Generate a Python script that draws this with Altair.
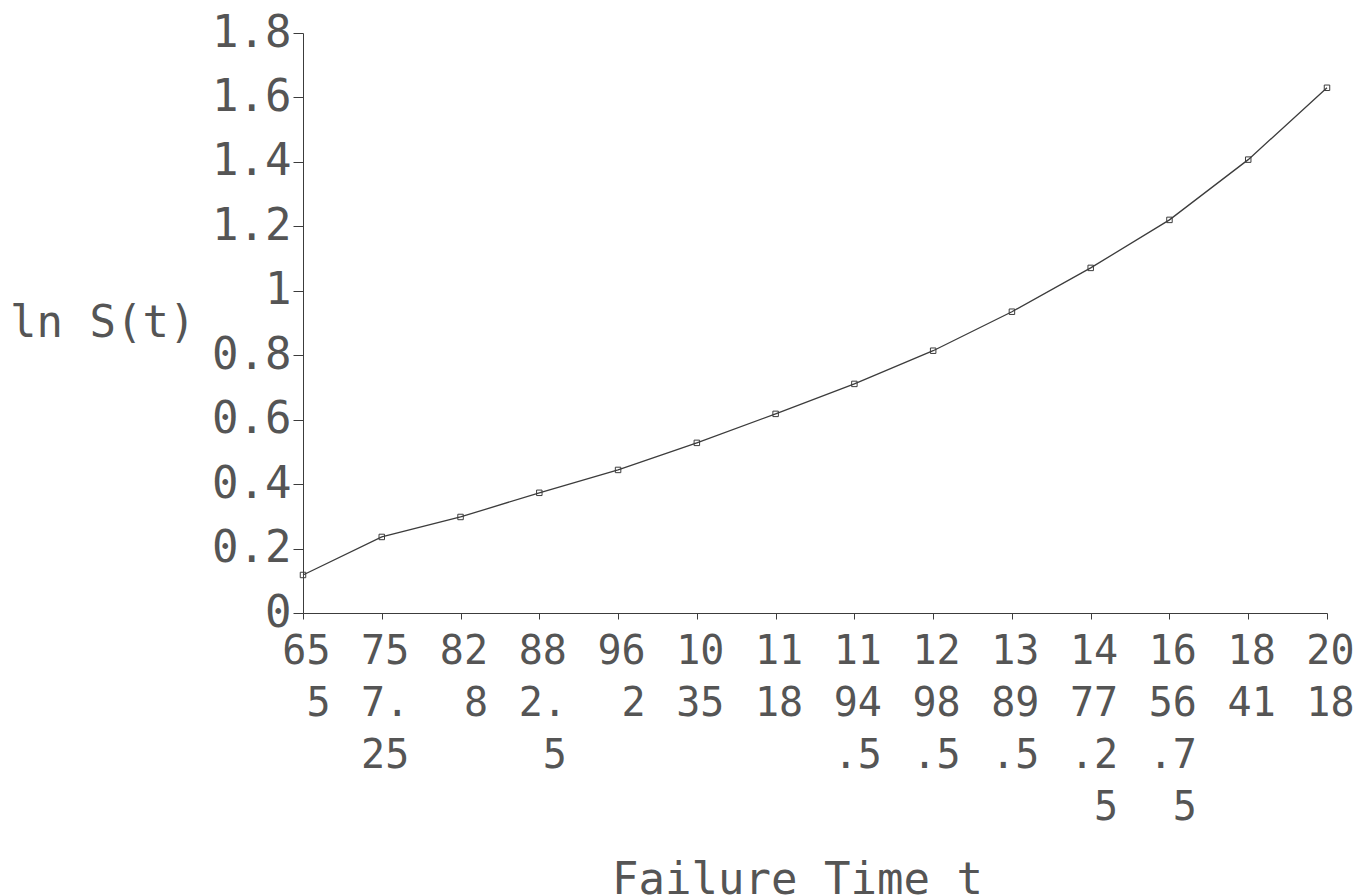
import altair as alt
import pandas as pd

# Failure-time tick labels (equally spaced categories on the x axis)
t_labels = ["655", "757.25", "828", "882.5", "962", "1035", "1118", "1194.5",
            "1298.5", "1389.5", "1477.25", "1656.75", "1841", "2018"]
# -ln S(t) read at each labelled time
neg_ln_s = [0.118, 0.236, 0.298, 0.373, 0.444, 0.528, 0.618, 0.711,
            0.814, 0.935, 1.071, 1.220, 1.407, 1.630]
y_ticks = [0, 0.2, 0.4, 0.6, 0.8, 1.0, 1.2, 1.4, 1.6, 1.8]

df = pd.DataFrame({"t": t_labels, "y": neg_ln_s})

FONT = "DejaVu Sans Mono"
INK = "#3c3c3c"
TXT = "#555555"

x_enc = alt.X(
    "t:N",
    sort=t_labels,
    scale=alt.Scale(type="point", padding=0),
    axis=alt.Axis(
        title="Failure Time t",
        grid=False,
        labelAngle=0,
        labelExpr="[substring(datum.label,0,2), substring(datum.label,2,4), substring(datum.label,4,6), substring(datum.label,6,8)]",
        labelAlign="right",
        labelOffset=27,
        labelFont=FONT,
        labelFontSize=40,
        labelLineHeight=52,
        labelColor=TXT,
        labelPadding=12,
        labelOverlap=False,
        tickSize=6,
        tickColor=INK,
        domainColor=INK,
        titleFont=FONT,
        titleFontSize=44,
        titleFontWeight="normal",
        titleColor=TXT,
        titleAlign="center",
        titleBaseline="top",
        titleX=494,
        titleY=245,
    ),
)

y_enc = alt.Y(
    "y:Q",
    scale=alt.Scale(domain=[0, 1.8], nice=False),
    axis=alt.Axis(
        values=y_ticks,
        grid=False,
        format="~g",
        title="-ln S(t)",
        labelFont=FONT,
        labelFontSize=44,
        labelColor=TXT,
        labelPadding=2,
        tickSize=10,
        tickColor=INK,
        domainColor=INK,
        titleFont=FONT,
        titleFontSize=44,
        titleFontWeight="normal",
        titleColor=TXT,
        titleAngle=0,
        titleAlign="left",
        titleBaseline="middle",
        titleX=-320,
        titleY=290,
    ),
)

base = alt.Chart(df).encode(x=x_enc, y=y_enc)
line = base.mark_line(color=INK, strokeWidth=1.3)
pts = base.mark_point(shape="square", filled=False, size=30, color=INK, strokeWidth=1, opacity=1)

chart = (
    alt.layer(line, pts)
    .properties(
        width=1024,
        height=580,
        padding={"left": 295, "top": 25, "right": 27, "bottom": 290},
        autosize=alt.AutoSizeParams(type="none"),
        view=alt.ViewBackground(stroke="transparent", strokeOpacity=0, strokeWidth=0),
    )
    .configure_view(stroke="transparent", strokeOpacity=0, strokeWidth=0)
    .configure_axis(grid=False)
    .configure(background="white")
)

chart.save("out.html", embed_options={"renderer": "svg", "actions": False})
